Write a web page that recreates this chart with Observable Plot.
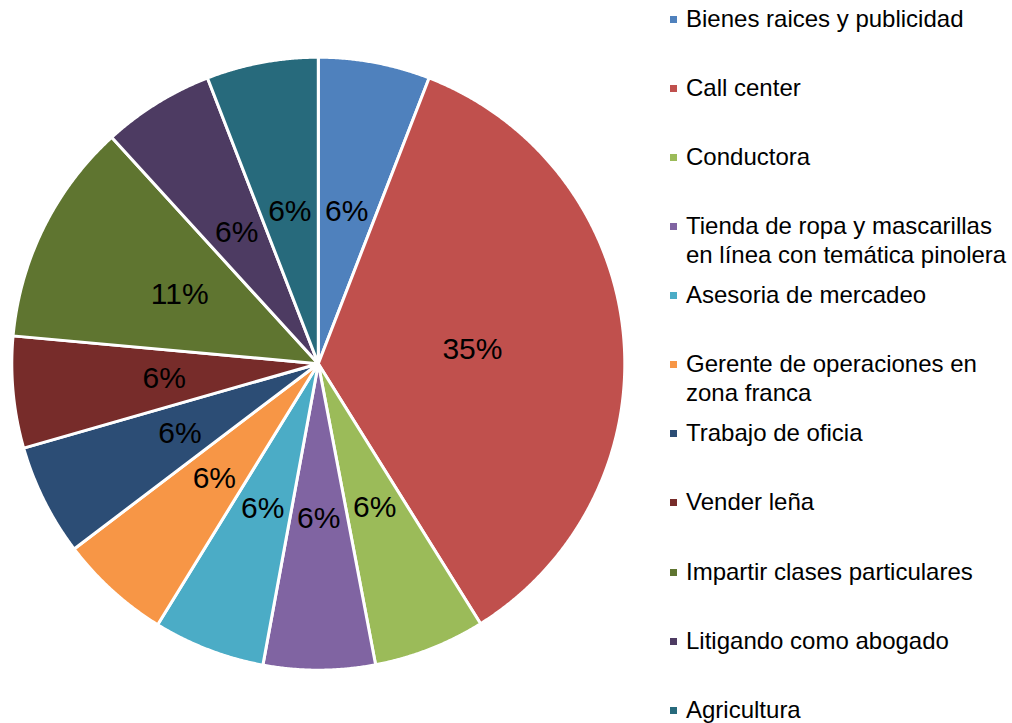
<!DOCTYPE html>
<html>
<head>
<meta charset="utf-8">
<script src="https://cdn.jsdelivr.net/npm/d3@7"></script>
<script src="https://cdn.jsdelivr.net/npm/@observablehq/plot@0.6"></script>
<style>
  html, body { margin: 0; padding: 0; background: #fff; }
  #wrap { position: relative; width: 1012px; height: 723px; overflow: hidden; font-family: "Liberation Sans", Arial, sans-serif; }
  #wrap svg { position: absolute; left: 0; top: 0; }
  .leg { position: absolute; left: 670px; }
  .leg .sw { position: absolute; left: 0; width: 7px; height: 7px; }
  .leg .tx { position: absolute; left: 16px; font-size: 24px; line-height: 28.5px; white-space: nowrap; color: #000; }
</style>
</head>
<body>
<div id="wrap"></div>
<script>
// ---- data ----
const categories = [
  "Bienes raices y publicidad",
  "Call center",
  "Conductora",
  "Tienda de ropa y mascarillas en línea con temática pinolera",
  "Asesoria de mercadeo",
  "Gerente de operaciones en zona franca",
  "Trabajo de oficia",
  "Vender leña",
  "Impartir clases particulares",
  "Litigando como abogado",
  "Agricultura"
];
const legendLines = [
  ["Bienes raices y publicidad"],
  ["Call center"],
  ["Conductora"],
  ["Tienda de ropa y mascarillas", "en línea con temática pinolera"],
  ["Asesoria de mercadeo"],
  ["Gerente de operaciones en", "zona franca"],
  ["Trabajo de oficia"],
  ["Vender leña"],
  ["Impartir clases particulares"],
  ["Litigando como abogado"],
  ["Agricultura"]
];
// slice shares (percent)
const shares = [5.9, 35.3, 5.9, 5.9, 5.9, 5.9, 5.9, 5.9, 11.8, 5.9, 5.9];
// data labels as printed on the chart
const pctLabels = ["6%", "35%", "6%", "6%", "6%", "6%", "6%", "6%", "11%", "6%", "6%"];
const colors = ["#4F81BD", "#C0504D", "#9BBB59", "#8064A2", "#4BACC6", "#F79646",
                "#2C4D75", "#772C2A", "#5F7530", "#4D3B62", "#276A7C"];

// ---- geometry (unit circle; d3.pie angles are clockwise from 12 o'clock) ----
const arcs = d3.pie().sort(null).value(d => d)(shares);
const verts = [];
const labelPts = [];
arcs.forEach((a, i) => {
  const name = categories[i];
  verts.push({name, x: 0, y: 0});
  const step = Math.PI / 720;
  for (let t = a.startAngle; t < a.endAngle; t += step) {
    verts.push({name, x: Math.sin(t), y: Math.cos(t)});
  }
  verts.push({name, x: Math.sin(a.endAngle), y: Math.cos(a.endAngle)});
  const m = (a.startAngle + a.endAngle) / 2;
  labelPts.push({name, label: pctLabels[i], x: 0.505 * Math.sin(m), y: 0.505 * Math.cos(m)});
});

// layout: pie centre and radius in pixels
const W = 1012, H = 723, cx = 317.8, cy = 363.2, R = 306.5;

const chart = Plot.plot({
  width: W,
  height: H,
  margin: 0,
  x: {domain: [-cx / R, (W - cx) / R], range: [0, W], axis: null},
  y: {domain: [-(H - cy) / R, cy / R], range: [H, 0], axis: null},
  color: {domain: categories, range: colors},
  style: {background: "#fff"},
  marks: [
    Plot.line(verts, {
      x: "x", y: "y", z: "name", fill: "name",
      stroke: "white", strokeWidth: 3, strokeLinejoin: "round",
      curve: "linear-closed"
    }),
    Plot.text(labelPts, {
      x: "x", y: "y", text: "label",
      fontSize: 30, fill: "black",
      fontFamily: "Liberation Sans, Arial, sans-serif"
    })
  ]
});

const wrap = document.getElementById("wrap");
wrap.appendChild(chart);

// ---- legend ----
categories.forEach((c, i) => {
  const yc = 18.7 + 69.1 * i;
  const row = document.createElement("div");
  row.className = "leg";
  row.style.top = "0px";
  const sw = document.createElement("div");
  sw.className = "sw";
  sw.style.background = colors[i];
  sw.style.top = (yc - 3) + "px";
  const tx = document.createElement("div");
  tx.className = "tx";
  tx.style.top = (yc - 14) + "px";
  tx.innerHTML = legendLines[i].join("<br>");
  row.appendChild(sw);
  row.appendChild(tx);
  wrap.appendChild(row);
});
</script>
</body>
</html>
